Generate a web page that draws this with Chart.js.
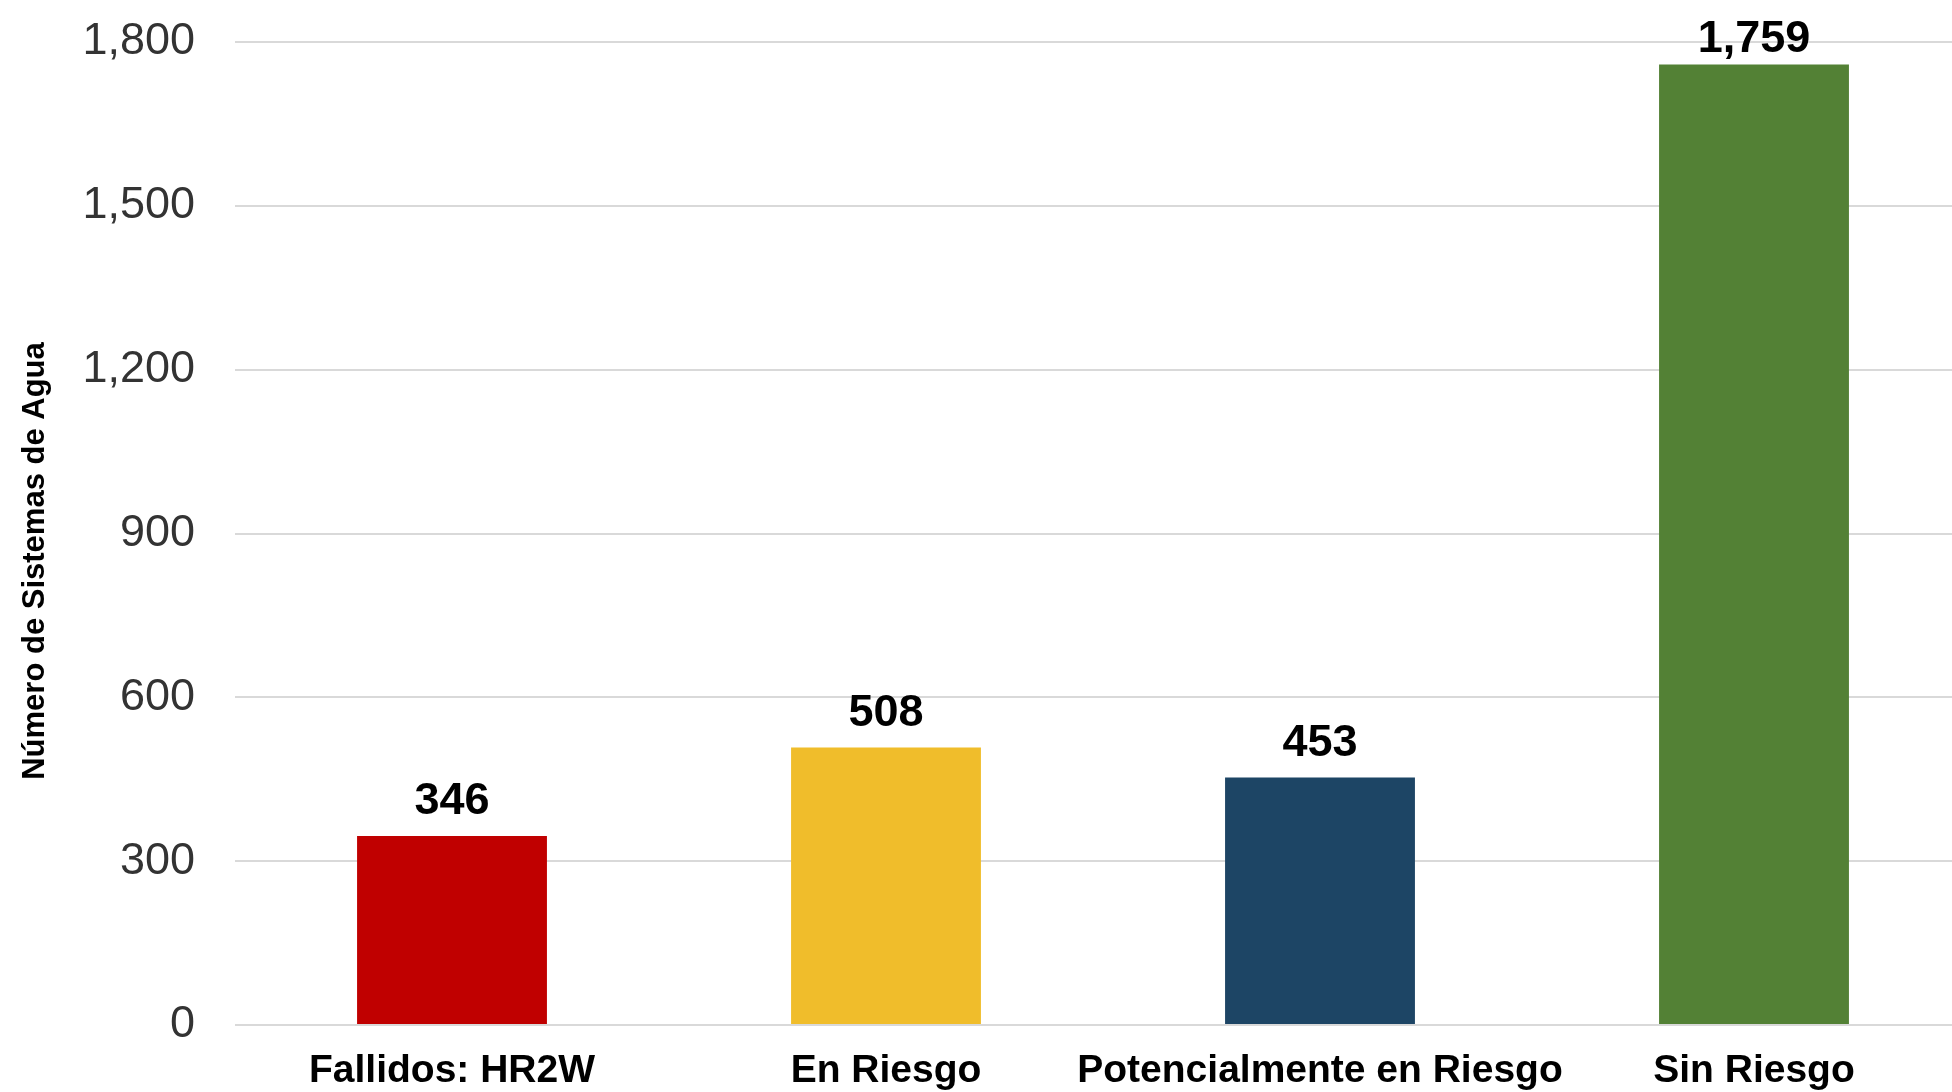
<!DOCTYPE html>
<html>
<head>
<meta charset="utf-8">
<script src="https://cdn.jsdelivr.net/npm/chart.js@4.4.1/dist/chart.umd.min.js"></script>
<style>
  html, body { margin: 0; padding: 0; background: #fff; overflow: hidden; }
  #wrap { position: relative; width: 1990px; height: 1092px; }
</style>
</head>
<body>
<div id="wrap"><canvas id="c"></canvas></div>
<script>
const categories = ['Fallidos: HR2W', 'En Riesgo', 'Potencialmente en Riesgo', 'Sin Riesgo'];
const values = [346, 508, 453, 1759];
const yTicks = [0, 300, 600, 900, 1200, 1500, 1800];
const yTitle = 'Número de Sistemas de Agua';

const barColors = ['#C00000', '#F0BD2B', '#1D4565', '#538135'];
const FONT = "'Liberation Sans', Arial, Helvetica, sans-serif";

const labelPlugin = {
  id: 'valueLabels',
  afterDatasetsDraw(chart) {
    const ctx = chart.ctx;
    const meta = chart.getDatasetMeta(0);
    ctx.save();
    ctx.font = 'bold 45px ' + FONT;
    ctx.fillStyle = '#000';
    ctx.textAlign = 'center';
    ctx.textBaseline = 'alphabetic';
    meta.data.forEach((bar, i) => {
      const v = chart.data.datasets[0].data[i];
      const y = Math.max(bar.y - 22, chart.chartArea.top + 10);
      ctx.fillText(v.toLocaleString('en-US'), bar.x, y);
    });
    ctx.restore();
  }
};

const titlePlugin = {
  id: 'yTitle',
  afterDraw(chart) {
    const ctx = chart.ctx;
    ctx.save();
    ctx.translate(35, 561);
    ctx.rotate(-Math.PI / 2);
    ctx.font = 'bold 31px ' + FONT;
    ctx.fillStyle = '#000';
    ctx.textAlign = 'center';
    ctx.textBaseline = 'middle';
    ctx.fillText(yTitle, 0, 0);
    ctx.restore();
  }
};

new Chart(document.getElementById('c'), {
  type: 'bar',
  data: {
    labels: categories,
    datasets: [{
      data: values,
      backgroundColor: barColors,
      borderWidth: 0,
      categoryPercentage: 1.0,
      barPercentage: 0.4375
    }]
  },
  options: {
    responsive: true,
    maintainAspectRatio: false,
    devicePixelRatio: 1,
    animation: false,
    locale: 'en-US',
    layout: { padding: { top: 42, right: 19, left: 0, bottom: 0 } },
    plugins: { legend: { display: false }, tooltip: { enabled: false } },
    scales: {
      x: {
        grid: { display: false, drawTicks: false },
        border: { display: false },
        ticks: {
          font: { family: FONT, size: 39, weight: 'bold' },
          color: '#000',
          padding: 23,
          maxRotation: 0,
          autoSkip: false
        },
        afterFit(scale) { scale.height = 67; }
      },
      y: {
        min: 0,
        max: 1800,
        afterBuildTicks(scale) { scale.ticks = yTicks.map(v => ({ value: v })); },
        grid: { color: '#d9d9d9', lineWidth: 2, drawTicks: false },
        border: { display: false },
        ticks: {
          font: { family: FONT, size: 45 },
          color: '#333',
          padding: 40,
          callback: v => v.toLocaleString('en-US')
        },
        afterFit(scale) {
          scale.width = 235;
          scale.paddingTop = 0;
          scale.paddingBottom = 0;
        }
      }
    }
  },
  plugins: [labelPlugin, titlePlugin]
});
</script>
</body>
</html>
